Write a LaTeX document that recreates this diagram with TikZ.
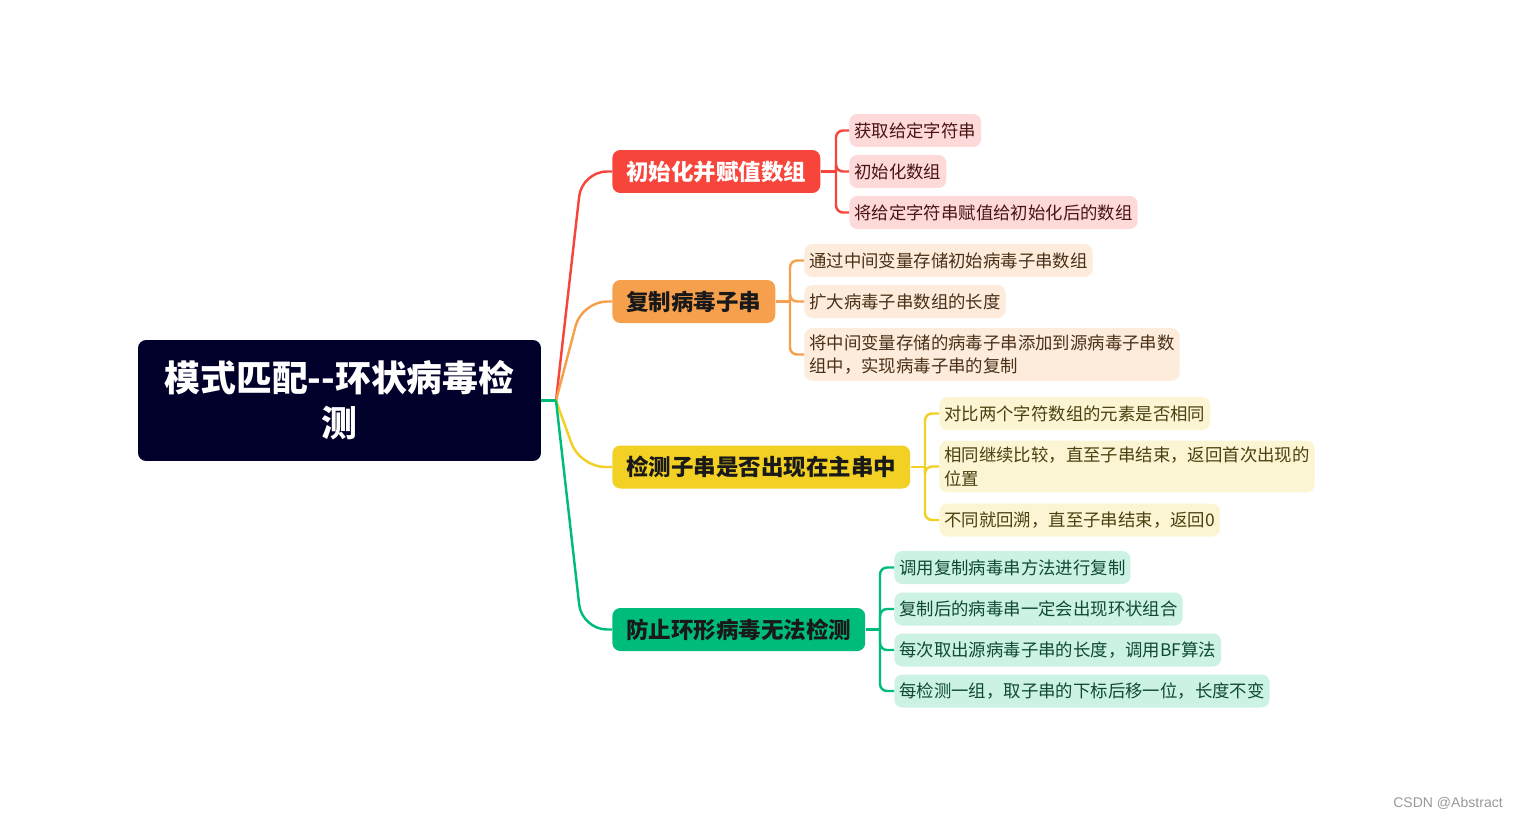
\documentclass[tikz,border=0pt]{standalone}
\usepackage{fontspec}
\newfontfamily\cjk{Noto Sans CJK SC}
\newfontfamily\wmfont{Liberation Sans}

\definecolor{rootc}{HTML}{00002A}
\definecolor{c1}{HTML}{F8453C}
\definecolor{c1l}{HTML}{FDDAD9}
\definecolor{c1d}{HTML}{4A1414}
\definecolor{c2}{HTML}{F6A04D}
\definecolor{c2l}{HTML}{FDEBDB}
\definecolor{c2d}{HTML}{4A3018}
\definecolor{c3}{HTML}{F2D024}
\definecolor{c3l}{HTML}{FCF5D3}
\definecolor{c3d}{HTML}{4A4010}
\definecolor{c4}{HTML}{00BC7B}
\definecolor{c4l}{HTML}{CCF2E4}
\definecolor{c4d}{HTML}{0F4A33}

\tikzset{
  rootbox/.style={fill=rootc,text=white,rounded corners=0.16cm,minimum width=8.06cm,
    minimum height=2.42cm,align=center,font=\cjk\bfseries\fontsize{20.4pt}{25.5pt}\selectfont},
  topic/.style={fill=#1,anchor=west,rounded corners=0.16cm,inner xsep=0.28cm,inner ysep=0pt,
    minimum height=0.86cm,text=black!90,font=\cjk\bfseries\fontsize{12.8pt}{15pt}\selectfont},
  leaf/.style={fill=#1l,text=#1d,anchor=west,rounded corners=0.16cm,inner xsep=0.1cm,
    inner ysep=0.12cm,minimum height=0.66cm,align=left,
    font=\cjk\fontsize{9.9pt}{13.6pt}\selectfont},
  link/.style={draw=#1,line width=1.4pt,rounded corners=0.14cm},
}

\begin{document}
\begin{tikzpicture}[x=0.02cm,y=-0.02cm]
  \useasboundingbox (0,0) rectangle (1524,818);

  % 中心主题
  \node[rootbox] (root) at (339.5,400.5) {模式匹配--环状病毒检\\测};
  \coordinate (hub) at (556,400.5);

  % 分支主题
  \node[topic=c1,text=white] (t1) at (612,171.5) {初始化并赋值数组};
  \node[topic=c2] (t2) at (612,301.5) {复制病毒子串};
  \node[topic=c3] (t3) at (612,467) {检测子串是否出现在主串中};
  \node[topic=c4] (t4) at (612,629.5) {防止环形病毒无法检测};

  % 主干连线
  \draw[link=c1,rounded corners=0.5cm] (hub) -- (582,171.5) -- (t1.west);
  \draw[link=c2,rounded corners=0.5cm] (hub) -- (582,301.5) -- (t2.west);
  \draw[link=c3,rounded corners=0.5cm] (hub) -- (580,467) -- (t3.west);
  \draw[link=c4,rounded corners=0.5cm] (hub) -- (582,629.5) -- (t4.west);
  \draw[link=c4] (root.east) -- (hub);

  % 初始化并赋值数组
  \node[leaf=c1] (l11) at (849,130.5) {获取给定字符串};
  \node[leaf=c1] (l12) at (849,171.5) {初始化数组};
  \node[leaf=c1] (l13) at (849,212.5) {将给定字符串赋值给初始化后的数组};
  \coordinate (s1) at (836,171.5);
  \draw[link=c1] (t1.east) -- (s1);
  \draw[link=c1] (s1) |- (l11.west);
  \draw[link=c1] (s1) |- (l12.west);
  \draw[link=c1] (s1) |- (l13.west);

  % 复制病毒子串
  \node[leaf=c2] (l21) at (804,260.5) {通过中间变量存储初始病毒子串数组};
  \node[leaf=c2] (l22) at (804,301.5) {扩大病毒子串数组的长度};
  \node[leaf=c2] (l23) at (804,354.5) {将中间变量存储的病毒子串添加到源病毒子串数\\组中，实现病毒子串的复制};
  \coordinate (s2) at (790,301.5);
  \draw[link=c2] (t2.east) -- (s2);
  \draw[link=c2] (s2) |- (l21.west);
  \draw[link=c2] (s2) |- (l22.west);
  \draw[link=c2] (s2) |- (l23.west);

  % 检测子串是否出现在主串中
  \node[leaf=c3] (l31) at (939,413.5) {对比两个字符数组的元素是否相同};
  \node[leaf=c3] (l32) at (939,466.5) {相同继续比较，直至子串结束，返回首次出现的\\位置};
  \node[leaf=c3] (l33) at (939,520) {不同就回溯，直至子串结束，返回0};
  \coordinate (s3) at (925,467);
  \draw[link=c3] (t3.east) -- (s3);
  \draw[link=c3] (s3) |- (l31.west);
  \draw[link=c3] (s3) |- (l32.west);
  \draw[link=c3] (s3) |- (l33.west);

  % 防止环形病毒无法检测
  \node[leaf=c4] (l41) at (894,567.5) {调用复制病毒串方法进行复制};
  \node[leaf=c4] (l42) at (894,609) {复制后的病毒串一定会出现环状组合};
  \node[leaf=c4] (l43) at (894,650) {每次取出源病毒子串的长度，调用BF算法};
  \node[leaf=c4] (l44) at (894,691) {每检测一组，取子串的下标后移一位，长度不变};
  \coordinate (s4) at (880,629.5);
  \draw[link=c4] (t4.east) -- (s4);
  \draw[link=c4] (s4) |- (l41.west);
  \draw[link=c4] (s4) |- (l42.west);
  \draw[link=c4] (s4) |- (l43.west);
  \draw[link=c4] (s4) |- (l44.west);

  % 水印
  \node[anchor=east,text=black!40,font=\wmfont\fontsize{8pt}{9pt}\selectfont] (wm) at (1509,803) {CSDN @Abstract};
\end{tikzpicture}
\end{document}
